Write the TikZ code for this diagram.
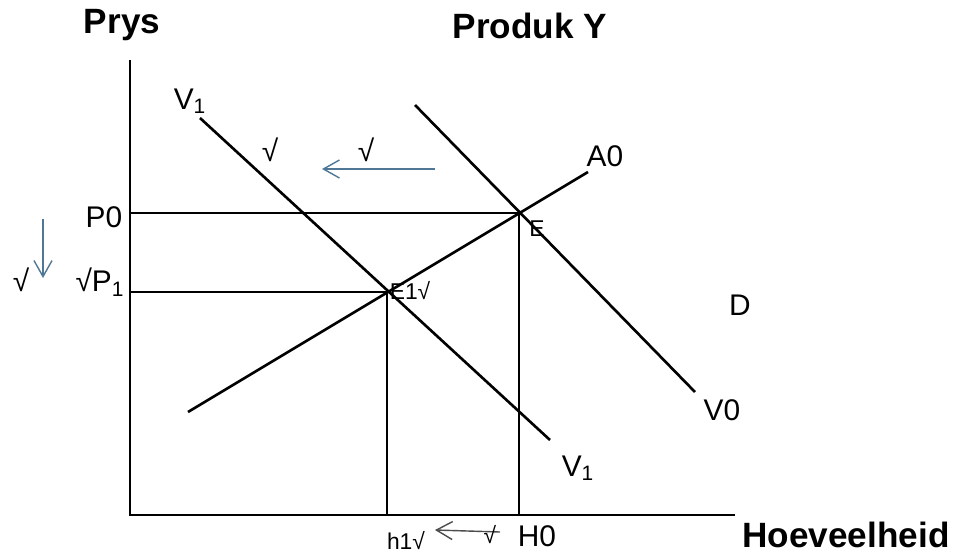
\documentclass[tikz,border=0pt]{standalone}
\usepackage{fontspec}
\setmainfont{Liberation Sans}
\usetikzlibrary{arrows.meta}
\definecolor{shiftblue}{RGB}{80,120,150}

\begin{document}
\begin{tikzpicture}[x=0.02cm,y=-0.02cm,
        curve/.style={line width=1.5pt},
        guide/.style={line width=1.3pt},
        title/.style={font=\fontsize{20}{22}\selectfont\bfseries,inner sep=0pt},
        lbl/.style={font=\fontsize{17}{19}\selectfont,inner sep=0pt},
        small/.style={font=\fontsize{13}{15}\selectfont,inner sep=0pt},
        move/.style={-{Straight Barb[length=3.2mm,width=3.6mm]},line width=0.8pt,color=shiftblue}]
        \useasboundingbox (0,0) rectangle (961,555);
        % axes
        \coordinate (origin) at (130,515);
        \coordinate (ytop) at (130,60);
        \coordinate (xend) at (735,515);
        \draw[curve] (ytop) -- (origin) -- (xend);
        % curves
        \coordinate (a0s) at (188,412);
        \coordinate (a0e) at (588,172);
        \coordinate (v0s) at (415,105);
        \coordinate (v0e) at (695,392);
        \coordinate (v1s) at (200,118);
        \coordinate (v1e) at (550,440);
        \draw[curve] (a0s) -- (a0e);
        \draw[curve] (v0s) -- (v0e);
        \draw[curve] (v1s) -- (v1e);
        % equilibria and guide lines
        \coordinate (E) at (519,213);
        \coordinate (E1) at (387,292);
        \coordinate (p0) at (130,213);
        \coordinate (p1) at (130,292);
        \coordinate (q0) at (519,515);
        \coordinate (q1) at (387,515);
        \draw[guide] (p0) -- (E) -- (q0);
        \draw[guide] (p1) -- (E1) -- (q1);
        % labels
        \node[title] (prys) at (122,25) {Prys};
        \node[title] (produk) at (530,26) {Produk Y};
        \node[title] (hoev) at (846,535) {Hoeveelheid};
        \node[lbl] (v1top) at (190,101) {V\textsubscript{1}};
        \node[lbl] (a0) at (605,156) {A0};
        \node[lbl] (dlbl) at (740,305) {D};
        \node[lbl] (v0) at (722,410) {V0};
        \node[lbl] (v1bot) at (578,468) {V\textsubscript{1}};
        \node[lbl] (p0lbl) at (104,217) {P0};
        \node[lbl] (p1lbl) at (100,282) {√P\textsubscript{1}};
        \node[small] (elbl) at (537,229) {E};
        \node[small] (e1lbl) at (410,291) {E1√};
        \node[small] (h1lbl) at (406,541) {h1√};
        \node[lbl] (h0lbl) at (537,536) {H0};
        % shifts
        \node[lbl] (tickl) at (21,280) {√};
        \coordinate (dn1) at (43,219);
        \coordinate (dn2) at (43,278);
        \draw[move] (dn1) -- (dn2);
        \node[lbl] (tick1) at (270,150) {√};
        \node[lbl] (tick2) at (366,150) {√};
        \coordinate (lf1) at (435,169);
        \coordinate (lf2) at (322,169);
        \draw[move] (lf1) -- (lf2);
        \coordinate (bt1) at (500,532);
        \coordinate (bt2) at (435,530);
        \draw[move,color=black!70] (bt1) -- (bt2);
        \node[small] (tick3) at (490,535) {√};
    \end{tikzpicture}
\end{document}
